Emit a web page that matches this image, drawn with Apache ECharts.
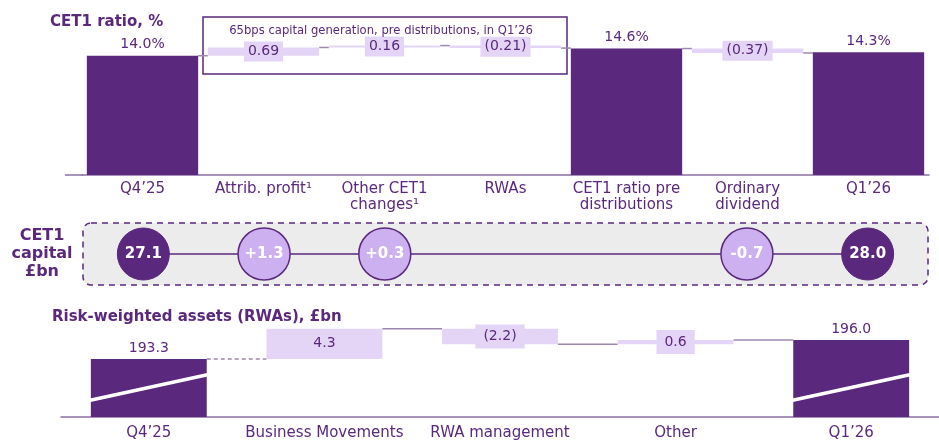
<!DOCTYPE html>
<html>
<head>
<meta charset="utf-8">
<script src="https://cdn.jsdelivr.net/npm/echarts@6/dist/echarts.min.js"></script>
<style>
  html, body { margin: 0; padding: 0; background: #fff; }
  #chart { width: 939px; height: 441px; }
</style>
</head>
<body>
<div id="chart"></div>
<script>
const ratioCategories = ['Q4’25', 'Attrib. profit¹', 'Other CET1\nchanges¹', 'RWAs', 'CET1 ratio pre\ndistributions', 'Ordinary\ndividend', 'Q1’26']
const ratioValues = [14.0, 0.69, 0.16, -0.21, 14.6, -0.37, 14.3]
const ratioIsTotal = [true, false, false, false, true, false, true]

const capitalValues = [27.1, 1.3, 0.3, null, null, -0.7, 28.0]
const capitalIsTotal = [true, false, false, false, false, false, true]

const rwaCategories = ['Q4’25', 'Business Movements', 'RWA management', 'Other', 'Q1’26']
const rwaValues = [193.3, 4.3, -2.2, 0.6, 196.0]
const rwaIsTotal = [true, false, false, false, true]

const PURPLE = '#5a287d'
const LIGHT = '#e4d5f6'
const BUBBLE = '#cdb0ef'
const CONNECT = '#9d88b0'
const FONT = 'DejaVu Sans'

// split a waterfall into totals / invisible base / visible change + running level
function waterfall(values, isTotal) {
  const totals = [], base = [], change = [], level = []
  let run = 0
  values.forEach((v, i) => {
    if (isTotal[i]) {
      totals.push(v); base.push('-'); change.push('-'); run = v
    } else {
      totals.push('-'); base.push(v >= 0 ? run : run + v); change.push(Math.abs(v)); run += v
    }
    level.push(run)
  })
  return { totals, base, change, level }
}

const fmtDelta = (v, dp) => v < 0 ? '(' + Math.abs(v).toFixed(dp) + ')' : v.toFixed(dp)

const ratio = waterfall(ratioValues, ratioIsTotal)
const rwa = waterfall(rwaValues, rwaIsTotal)

function connectors(level, axisIdx, ratioW, dashFirst) {
  return {
    type: 'custom',
    xAxisIndex: axisIdx, yAxisIndex: axisIdx,
    silent: true, z: 1,
    data: level.slice(0, level.length - 1).map((v, i) => [i, v]),
    renderItem(params, api) {
      const i = api.value(0), v = api.value(1)
      const a = api.coord([i, v]), b = api.coord([i + 1, v])
      const half = api.size([1, 0])[0] * ratioW / 2
      return {
        type: 'line',
        shape: { x1: a[0] + half, y1: a[1], x2: b[0] - half, y2: b[1] },
        style: { stroke: CONNECT, lineWidth: 1.5, lineDash: dashFirst && i === 0 ? [4, 3] : null }
      }
    }
  }
}

function waterfallSeries(wf, values, axisIdx, barW, dp, suffix, pad) {
  const lbl = { fontFamily: FONT, fontSize: 14, color: PURPLE }
  return [
    {
      type: 'bar', xAxisIndex: axisIdx, yAxisIndex: axisIdx, stack: 'wf' + axisIdx,
      barWidth: barW, barGap: '-100%', silent: true,
      itemStyle: { color: 'transparent' }, data: wf.base
    },
    {
      type: 'bar', xAxisIndex: axisIdx, yAxisIndex: axisIdx, stack: 'wf' + axisIdx,
      barWidth: barW, barGap: '-100%',
      itemStyle: { color: LIGHT }, data: wf.change,
      label: {
        show: true, position: 'inside', ...lbl,
        backgroundColor: LIGHT, padding: pad,
        formatter: p => fmtDelta(values[p.dataIndex], dp)
      }
    },
    {
      type: 'bar', xAxisIndex: axisIdx, yAxisIndex: axisIdx,
      barWidth: barW, barGap: '-100%',
      itemStyle: { color: PURPLE }, data: wf.totals,
      label: { show: true, position: 'top', distance: 4, ...lbl, formatter: p => p.value.toFixed(1) + suffix }
    }
  ]
}

const chart = echarts.init(document.getElementById('chart'))

const axisText = { color: PURPLE, fontFamily: FONT, fontSize: 15, lineHeight: 16 }

chart.setOption({
  animation: false,
  title: [
    { text: 'CET1 ratio, %', left: 45, top: 10, textStyle: { color: PURPLE, fontFamily: FONT, fontSize: 15, fontWeight: 'bold' } },
    { text: 'Risk-weighted assets (RWAs), £bn', left: 47, top: 305, textStyle: { color: PURPLE, fontFamily: FONT, fontSize: 15, fontWeight: 'bold' } }
  ],
  grid: [
    { left: 82, right: 10, top: 8, height: 167 },
    { left: 83, right: 11, top: 223, height: 62 },
    { left: 61, right: 0, top: 326, bottom: 24 }
  ],
  xAxis: [
    {
      gridIndex: 0, type: 'category', data: ratioCategories,
      axisLine: { lineStyle: { color: '#8a70a3', width: 1.5 } }, axisTick: { show: false },
      axisLabel: { ...axisText, interval: 0, margin: 6 }
    },
    { gridIndex: 1, type: 'category', data: ratioCategories, show: false },
    {
      gridIndex: 2, type: 'category', data: rwaCategories,
      axisLine: { lineStyle: { color: '#8a70a3', width: 1.5 } }, axisTick: { show: false },
      axisLabel: { ...axisText, interval: 0, margin: 8 }
    }
  ],
  yAxis: [
    { gridIndex: 0, type: 'value', min: 4, max: 18, show: false },
    {
      gridIndex: 1, type: 'category', data: ['CET1\ncapital\n£bn'],
      axisLine: { show: false }, axisTick: { show: false }, splitLine: { show: false },
      axisLabel: { color: PURPLE, fontFamily: FONT, fontSize: 16, fontWeight: 'bold', lineHeight: 18, align: 'center', margin: 41 }
    },
    { gridIndex: 2, type: 'value', min: 185, max: 198, show: false }
  ],
  graphic: [
    { type: 'rect', z: -10, shape: { x: 83, y: 223, width: 845, height: 62, r: 8 },
      style: { fill: '#ececec', stroke: PURPLE, lineWidth: 1.5, lineDash: [6, 5] } },
    { type: 'rect', z: 0, shape: { x: 203, y: 17, width: 364, height: 57 },
      style: { fill: 'none', stroke: PURPLE, lineWidth: 1.5 } },
    { type: 'text', z: 5, x: 381, y: 31,
      style: { text: '65bps capital generation, pre distributions, in Q1’26', fill: PURPLE, font: '11.6px "DejaVu Sans"', textAlign: 'center', textVerticalAlign: 'middle' } },
    { type: 'line', shape: { x1: 65, y1: 175, x2: 83, y2: 175 }, style: { stroke: '#8a70a3', lineWidth: 1.5 } }
  ],
  series: [
    ...waterfallSeries(ratio, ratioValues, 0, '92%', 2, '%', [3, 4]),
    connectors(ratio.level, 0, 0.92, false),
    {
      type: 'line', xAxisIndex: 1, yAxisIndex: 1,
      symbol: 'circle', symbolSize: 52,
      lineStyle: { color: PURPLE, width: 1.5 },
      data: capitalValues.map((v, i) => v == null ? null : {
        value: [i, 0],
        itemStyle: capitalIsTotal[i]
          ? { color: PURPLE, borderColor: PURPLE, borderWidth: 1 }
          : { color: BUBBLE, borderColor: PURPLE, borderWidth: 1.5 }
      }).filter(d => d),
      label: {
        show: true, position: 'inside', color: '#fff', fontFamily: FONT, fontSize: 15, fontWeight: 'bold',
        formatter: p => {
          const i = p.value[0], v = capitalValues[i]
          return capitalIsTotal[i] ? v.toFixed(1) : (v > 0 ? '+' : '') + v.toFixed(1)
        }
      }
    },
    ...waterfallSeries(rwa, rwaValues, 2, '66%', 1, '', [5, 8]),
    connectors(rwa.level, 2, 0.66, true),
    {
      // axis-break marks on the total RWA bars
      type: 'custom', xAxisIndex: 2, yAxisIndex: 2, silent: true, z: 5,
      data: rwaValues.map((v, i) => [i, v]).filter((d, i) => rwaIsTotal[i]),
      renderItem(params, api) {
        const i = api.value(0)
        const bottom = api.coord([i, 185])
        const half = api.size([1, 0])[0] * 0.66 / 2
        return {
          type: 'line',
          shape: { x1: bottom[0] - half - 4, y1: bottom[1] - 16, x2: bottom[0] + half + 4, y2: bottom[1] - 43 },
          style: { stroke: '#fff', lineWidth: 3.5 }
        }
      }
    }
  ]
})
</script>
</body>
</html>
